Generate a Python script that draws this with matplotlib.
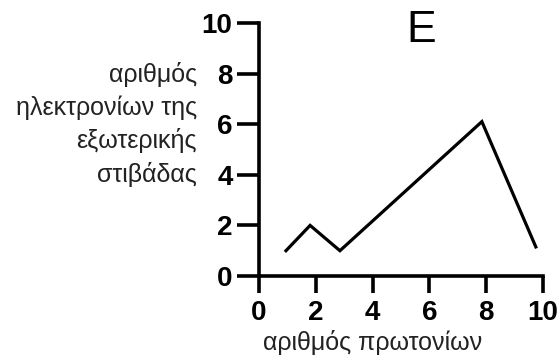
import matplotlib
matplotlib.use('Agg')
from matplotlib import pyplot as plt

plt.rcParams['font.family'] = ['Liberation Sans', 'DejaVu Sans']

# values
protons = [0.95, 1.8, 2.85, 7.85, 9.75]
electrons = [1.0, 2.0, 1.0, 6.1, 1.15]
ticks = [0, 2, 4, 6, 8, 10]

fig = plt.figure(figsize=(5.6, 3.58), dpi=100)
ax = fig.add_axes([0.4625, 0.229, 0.507, 0.707])

ax.plot(protons, electrons, color='black', linewidth=2.3, solid_joinstyle='miter')

ax.set_xlim(0, 10)
ax.set_ylim(0, 10)
ax.set_xticks(ticks)
ax.set_yticks(ticks)
for side in ['top', 'right']:
    ax.spines[side].set_visible(False)
for side in ['left', 'bottom']:
    ax.spines[side].set_linewidth(2.6)
ax.tick_params(width=2.6, labelsize=20)
ax.tick_params(axis='x', length=12, pad=5)
ax.tick_params(axis='y', length=16, pad=3)
for lbl in ax.get_xticklabels() + ax.get_yticklabels():
    lbl.set_fontweight('bold')

ax.text(5.7, 9.7, 'E', fontsize=32, ha='center', va='center')

ax.set_xlabel('αριθμός πρωτονίων', fontsize=18, color='#222222')
ax.xaxis.set_label_coords(0.40, -0.215)
fig.text(0.352, 0.652, 'αριθμός\nηλεκτρονίων της\nεξωτερικής\nστιβάδας',
         fontsize=18, color='#222222', ha='right', va='center',
         multialignment='right', linespacing=1.42)

fig.savefig('out.png', dpi=100)
